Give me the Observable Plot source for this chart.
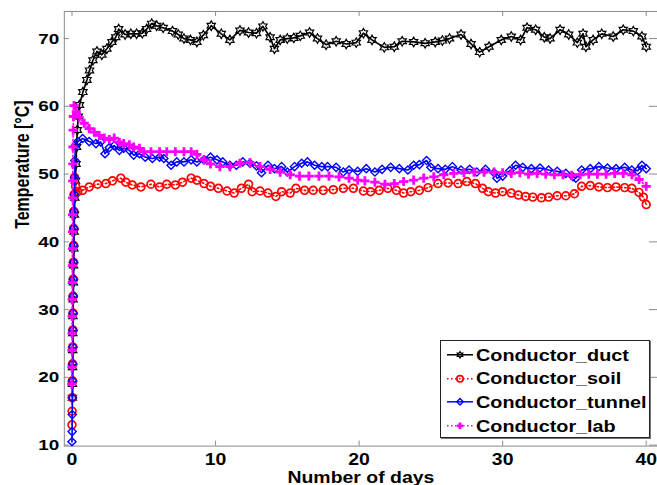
<!DOCTYPE html>
<html><head><meta charset="utf-8">
<script src="https://cdn.jsdelivr.net/npm/d3@7"></script>
<script src="https://cdn.jsdelivr.net/npm/@observablehq/plot@0.6"></script>
<style>
html,body{margin:0;padding:0;background:#fff;overflow:hidden;width:657px;height:485px}
#wrap{position:relative;width:657px;height:485px;overflow:hidden}
#legend{position:absolute;left:440px;top:340px;width:210px;height:98px;border:1px solid #222;background:#fff;box-shadow:1px 1px 0 #777;font:bold 16.5px "Liberation Sans",Arial,sans-serif;color:#000;box-sizing:border-box;padding-top:2px}
.row{height:23.6px;position:relative}
.row svg{position:absolute;left:5px;top:0}
.row span{position:absolute;left:35px;top:50%;transform:translateY(-50%) scaleX(1.2);transform-origin:left center;white-space:nowrap;line-height:1}
</style></head><body><div id="wrap"></div>
<script>
// ---- data ----
const seriesNames = ["Conductor_duct", "Conductor_soil", "Conductor_tunnel", "Conductor_lab"];
const seriesColors = ["#000000", "#ff0000", "#0000ff", "#ff00ff"];
const xTicks = [0, 10, 20, 30, 40];
const yTicks = [10, 20, 30, 40, 50, 60, 70];

const days_duct = [0.03,0.035,0.04,0.05,0.06,0.07,0.08,0.1,0.11,0.13,0.15,0.17,0.2,0.24,0.28,0.32,0.37,0.44,0.52,0.76,1.04,1.22,1.46,1.74,2.08,2.43,2.78,3.05,3.25,3.7,4.1,4.5,4.9,5.2,5.55,5.9,6.35,7.0,7.4,7.8,8.25,8.7,9.15,9.7,10.4,11.0,11.7,12.3,12.85,13.3,13.8,14.1,14.5,15.0,15.45,15.9,16.55,17.1,17.7,18.4,19.1,19.8,20.3,20.9,21.75,22.45,23.0,23.8,24.6,25.3,25.8,26.3,27.1,27.8,28.4,29.05,29.9,30.6,31.25,31.7,32.3,32.9,33.3,34.0,34.6,35.2,35.6,35.8,36.3,36.9,37.7,38.4,39.1,39.7,40.0];
const temp_duct = [17,19,21.5,24,26.5,29,31.5,34,36.5,39,41.5,44,46.5,49,51.5,54,56.5,58.5,60.2,62.1,63.9,65.3,66.8,68.1,67.6,68.5,69.5,70.2,71.4,70.6,70.7,70.7,70.8,71.4,72.2,71.9,71.6,71.1,70.6,70.0,69.8,69.5,70.5,71.9,70.7,69.8,71.2,70.9,70.8,71.8,70.2,68.5,69.8,70.0,70.1,70.4,70.9,70.0,69.1,69.6,69.2,69.4,70.8,69.8,68.7,68.8,69.6,69.5,69.3,69.5,69.7,70.0,70.6,69.2,68.0,68.8,69.8,70.3,69.8,71.6,71.3,70.2,70.0,71.3,70.6,69.4,70.7,68.8,69.8,70.7,70.3,71.3,71.1,70.3,68.8];

const days_soil = [0.0,0.01,0.02,0.03,0.04,0.05,0.06,0.07,0.08,0.09,0.1,0.11,0.12,0.13,0.15,0.18,0.25,0.4,0.74,1.2,1.78,2.36,2.82,3.4,3.75,4.2,4.8,5.5,6.1,6.6,7.2,7.7,8.3,8.7,9.2,9.65,10.2,10.8,11.3,11.8,12.3,12.55,13.1,13.65,14.2,14.6,15.2,15.6,16.2,16.8,17.5,18.2,18.9,19.6,20.3,20.8,21.4,22.0,22.6,23.1,23.6,24.2,24.8,25.5,26.2,26.9,27.5,28.1,28.6,29.0,29.5,30.0,30.6,31.1,31.6,32.1,32.7,33.2,33.8,34.4,35.0,35.5,36.1,36.7,37.3,37.9,38.5,39.0,39.5,39.8,40.0];
const temp_soil = [13,15,17,19.5,22,24.5,27,29.5,32,34.5,37,39.5,42,44.5,47,49.5,48.2,47.4,47.6,48.1,48.5,48.6,49.0,49.4,48.8,48.4,48.1,48.5,48.1,48.5,48.4,48.8,49.4,49.1,48.6,48.2,47.9,47.5,47.2,47.9,48.5,47.4,47.5,47.2,46.7,47.4,47.2,47.9,47.6,47.6,47.6,47.7,47.9,47.9,47.5,47.4,47.6,47.9,47.6,47.2,47.4,47.6,48.0,48.6,48.7,48.6,48.9,48.6,47.9,47.4,47.2,47.4,47.2,46.9,46.7,46.6,46.5,46.6,46.8,46.8,47.1,48.2,48.3,48.1,48.0,48.1,48.0,47.9,47.3,46.6,45.5];

const days_tunnel = [0.0,0.01,0.02,0.03,0.04,0.05,0.06,0.07,0.08,0.09,0.1,0.11,0.12,0.13,0.14,0.16,0.18,0.2,0.24,0.4,0.74,1.2,1.67,2.0,2.3,2.6,2.94,3.3,3.6,4.0,4.3,4.7,5.1,5.6,6.1,6.4,6.9,7.3,7.8,8.3,8.7,9.2,9.65,10.1,10.5,11.0,11.45,11.9,12.4,12.85,13.2,13.65,14.1,14.6,15.0,15.5,16.0,16.4,16.9,17.4,17.8,18.4,18.9,19.3,19.9,20.5,21.1,21.6,22.2,22.8,23.4,23.8,24.2,24.7,25.0,25.5,26.0,26.5,27.1,27.7,28.2,28.8,29.4,29.6,30.0,30.5,30.9,31.4,32.0,32.6,33.2,33.8,34.4,34.9,35.1,35.5,36.1,36.7,37.3,37.9,38.5,39.0,39.4,39.7,40.0];
const temp_tunnel = [10.5,12,14.5,17,19.5,22,24.5,27,29.5,32,34.5,37,39.5,42,44.5,47,49.5,52,54.2,54.8,55.25,54.8,54.5,54.75,53.0,53.9,54.2,53.5,53.8,53.5,52.8,53.0,52.5,52.3,52.5,52.3,51.3,51.8,51.8,52.1,51.8,52.1,52.5,52.1,51.8,51.3,51.3,51.8,51.6,51.2,50.2,51.3,50.8,51.1,50.3,51.1,51.6,51.8,51.3,51.1,51.1,51.0,50.3,50.6,50.4,50.8,50.3,50.7,51.0,50.8,50.6,51.3,51.4,52.0,51.0,50.8,50.7,51.1,50.6,50.7,50.3,50.7,50.2,49.4,49.7,50.5,51.3,51.0,50.8,50.9,50.6,50.4,50.1,49.6,49.4,50.6,50.8,51.1,50.9,50.8,51.0,50.6,50.5,51.3,50.8];

const days_lab = [-0.02,-0.01,0.0,0.005,0.01,0.015,0.02,0.025,0.03,0.035,0.04,0.045,0.05,0.06,0.07,0.08,0.1,0.14,0.3,0.5,0.85,1.2,1.55,1.9,2.25,2.6,2.94,3.3,3.6,4.0,4.3,4.7,5.0,5.5,6.1,6.6,7.2,7.8,8.3,8.7,9.2,9.65,10.3,11.0,11.7,12.4,13.1,13.8,14.5,15.2,15.85,16.5,17.2,17.9,18.6,19.3,19.9,20.4,21.1,21.8,22.45,23.1,23.8,24.5,25.2,25.9,26.6,27.3,28.0,28.7,29.4,30.0,30.6,31.2,31.8,32.4,33.0,33.6,34.2,34.8,35.4,36.0,36.6,37.2,37.8,38.4,39.0,39.5,40.0];
const temp_lab = [19,21.5,24,26.5,29,31.5,34,36.5,39,41.5,44,46.5,49,51.5,54,56.5,58.5,60.1,59.2,58.4,57.5,56.7,56.2,55.7,55.3,55.1,55.3,54.7,54.5,54.3,54.0,53.8,53.3,53.3,53.3,53.3,53.3,53.3,53.3,52.9,52.1,51.5,51.1,51.1,51.6,51.7,51.1,50.7,50.3,49.9,49.7,49.7,49.7,49.7,49.6,49.4,49.1,49.0,48.8,48.5,48.6,48.9,49.1,49.4,49.6,49.9,50.1,50.2,50.3,50.3,50.3,50.2,50.1,50.2,50.0,50.1,50.0,49.9,49.9,49.8,49.9,50.0,50.0,50.0,50.1,50.1,49.9,49.2,48.2];

// ---- custom MATLAB-like markers ----
const hexagram = {draw(ctx, size) {
  const R = Math.sqrt(size / Math.PI), r = R / Math.sqrt(3);
  for (let k = 0; k < 12; k++) {
    const a = -Math.PI / 2 + k * Math.PI / 6, rr = k % 2 ? r : R;
    const px = rr * Math.cos(a), py = rr * Math.sin(a);
    k ? ctx.lineTo(px, py) : ctx.moveTo(px, py);
  }
  ctx.closePath();
}};
const plusSym = {draw(ctx, size) {
  const R = Math.sqrt(size / Math.PI);
  ctx.moveTo(-R, 0); ctx.lineTo(R, 0); ctx.moveTo(0, -R); ctx.lineTo(0, R);
}};
const diamondSym = {draw(ctx, size) {
  const R = Math.sqrt(size / Math.PI);
  ctx.moveTo(0, -R); ctx.lineTo(R, 0); ctx.lineTo(0, R); ctx.lineTo(-R, 0); ctx.closePath();
}};
const circleSym = {draw(ctx, size) {
  const R = Math.sqrt(size / Math.PI);
  ctx.moveTo(R, 0); ctx.arc(0, 0, R, 0, 2 * Math.PI);
}};

const series = [
  {days: days_duct, temp: temp_duct, sym: hexagram, r: 4.8, mw: 1.2, dash: null, lw: 1.7},
  {days: days_soil, temp: temp_soil, sym: circleSym, r: 3.9, mw: 1.7, dash: "1.5,2.5", lw: 1.6},
  {days: days_tunnel, temp: temp_tunnel, sym: diamondSym, r: 4.1, mw: 1.4, dash: null, lw: 1.6},
  {days: days_lab, temp: temp_lab, sym: plusSym, r: 4.6, mw: 2.8, dash: "1.5,2.5", lw: 1.6}
].map((s, i) => ({...s, name: seriesNames[i], color: seriesColors[i],
  data: s.days.map((d, j) => ({d, t: s.temp[j]}))}));

const W = 659, H = 485, mL = 64, mT = 11, mB = 38, mR = 0;
const plotW = W - mL - mR, plotH = H - mT - mB;
const gray = "#8a8a8a";
const font = "'Liberation Sans', Arial, sans-serif";

const marks = [Plot.frame({stroke: gray})];
// inward ticks on all four sides
marks.push(Plot.tickX(xTicks, {x: d => d, insetTop: plotH - 5, stroke: gray}));
marks.push(Plot.tickX(xTicks, {x: d => d, insetBottom: plotH - 5, stroke: gray}));
marks.push(Plot.tickY(yTicks, {y: d => d, insetRight: plotW - 5, stroke: gray}));
marks.push(Plot.tickY(yTicks, {y: d => d, insetLeft: plotW - 8, stroke: gray}));
for (const s of series) {
  marks.push(Plot.line(s.data, {x: "d", y: "t", stroke: s.color, strokeWidth: s.lw, strokeDasharray: s.dash, curve: "linear"}));
  marks.push(Plot.dot(s.data, {x: "d", y: "t", symbol: s.sym, r: s.r, stroke: s.color, strokeWidth: s.mw, fill: "none"}));
}
marks.push(Plot.axisX(xTicks, {tickSize: 0, tickPadding: 8, fontSize: 16, fontWeight: "bold", fontFamily: font, fill: "#000", label: null}));
marks.push(Plot.axisY(yTicks, {tickSize: 0, tickPadding: 5, fontSize: 15.5, fontWeight: "bold", fontFamily: font, fill: "#000", label: null}));
marks.push(Plot.text(["Number of days"], {frameAnchor: "bottom", lineAnchor: "middle", dy: 31.5, fontSize: 16, fontWeight: "bold", fontFamily: font, fill: "#000"}));
marks.push(Plot.text(["Temperature [°C]"], {frameAnchor: "left", lineAnchor: "middle", dx: -42, rotate: -90, fontSize: 16, fontWeight: "bold", fontFamily: font, fill: "#000"}));

const chart = Plot.plot({
  width: W, height: H,
  marginLeft: mL, marginTop: mT, marginBottom: mB, marginRight: mR,
  x: {domain: [-0.535, 40.785]},
  y: {domain: [9.85, 74]},
  style: {fontFamily: font, background: "#fff", overflow: "visible"},
  marks
});
const wrap = document.getElementById("wrap");
wrap.appendChild(chart);

// horizontal stretch of the text (the reference image is widened)
const SX = 1.22;
chart.querySelectorAll("text").forEach(t => {
  const tr = t.getAttribute("transform") || "";
  if (/rotate\(/.test(tr)) {
    t.setAttribute("transform", `${tr} scale(1,${SX})`);
  } else {
    let x = parseFloat(t.getAttribute("x"));
    if (!isFinite(x)) x = 0;
    t.setAttribute("transform", `${tr} translate(${x},0) scale(${SX},1) translate(${-x},0)`);
  }
});

// legend (inside the axes box, like the original)
const legend = document.createElement("div");
legend.id = "legend";
series.forEach(s => {
  const row = document.createElement("div");
  row.className = "row";
  const svg = d3.create("svg").attr("width", 28).attr("height", 23.6);
  svg.append("line").attr("x1", 1).attr("x2", 27).attr("y1", 11.8).attr("y2", 11.8)
    .attr("stroke", s.color).attr("stroke-width", 1.5).attr("stroke-dasharray", s.dash);
  svg.append("path").attr("d", d3.symbol(s.sym, Math.PI * 3.2 * 3.2)())
    .attr("transform", "translate(14,11.8)").attr("fill", "none")
    .attr("stroke", s.color).attr("stroke-width", s.mw);
  row.appendChild(svg.node());
  const span = document.createElement("span");
  span.textContent = s.name;
  row.appendChild(span);
  legend.appendChild(row);
});
wrap.appendChild(legend);
</script>
</body></html>
